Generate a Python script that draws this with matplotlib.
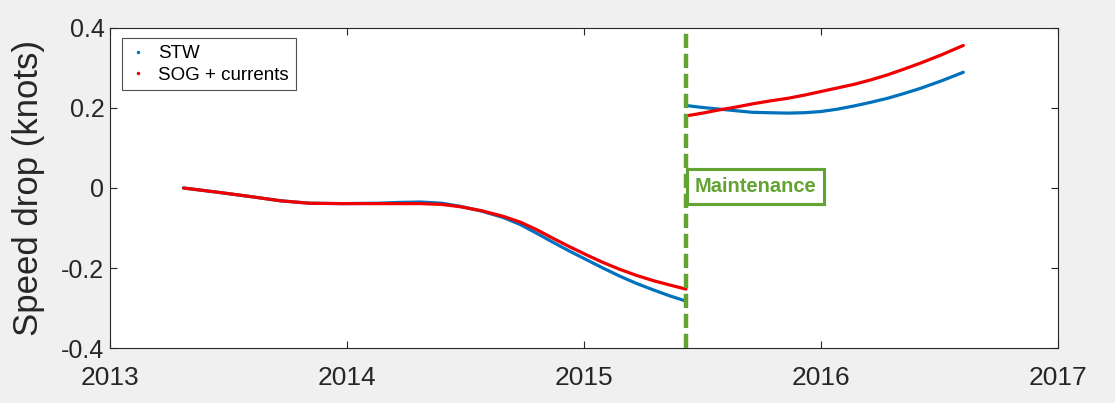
import matplotlib
matplotlib.use("Agg")
import matplotlib.pyplot as plt
from matplotlib.lines import Line2D
import matplotlib.patheffects as pe

plt.rcParams['font.family'] = ['Liberation Sans', 'DejaVu Sans']

# Before maintenance
years_pre = [2013.31, 2013.46, 2013.60, 2013.72, 2013.84, 2013.98, 2014.13, 2014.22,
             2014.31, 2014.40, 2014.48, 2014.57, 2014.66, 2014.73, 2014.80, 2014.87,
             2014.94, 2015.01, 2015.08, 2015.15, 2015.22, 2015.29, 2015.36, 2015.43]
stw_pre = [0.0, -0.011, -0.022, -0.032, -0.038, -0.039, -0.038, -0.036,
           -0.035, -0.038, -0.046, -0.058, -0.074, -0.091, -0.113, -0.136,
           -0.158, -0.179, -0.200, -0.220, -0.238, -0.254, -0.269, -0.2825]
sog_pre = [0.0, -0.011, -0.022, -0.032, -0.038, -0.039, -0.039, -0.039,
           -0.039, -0.041, -0.047, -0.057, -0.071, -0.085, -0.104, -0.126,
           -0.147, -0.167, -0.186, -0.203, -0.218, -0.231, -0.242, -0.2525]

# After maintenance
years_post = [2015.43, 2015.50, 2015.57, 2015.64, 2015.71, 2015.78, 2015.86, 2015.93,
              2016.00, 2016.07, 2016.14, 2016.21, 2016.28, 2016.35, 2016.42, 2016.51,
              2016.60]
stw_post = [0.206, 0.201, 0.197, 0.193, 0.189, 0.188, 0.187, 0.188,
            0.191, 0.197, 0.205, 0.214, 0.224, 0.236, 0.249, 0.268, 0.289]
sog_post = [0.180, 0.187, 0.195, 0.202, 0.210, 0.217, 0.224, 0.232,
            0.241, 0.250, 0.259, 0.270, 0.2825, 0.297, 0.312, 0.333, 0.356]

maintenance_year = 2015.43
x_ticks = [2013, 2014, 2015, 2016, 2017]
y_ticks = [-0.4, -0.2, 0, 0.2, 0.4]
y_tick_labels = ['-0.4', '-0.2', '0', '0.2', '0.4']

blue = '#0072BD'
red = '#F00000'
green = '#62A332'

fig = plt.figure(figsize=(11.15, 4.03), dpi=100, facecolor='#f0f0f0')
ax = fig.add_axes([0.0987, 0.136, 0.8503, 0.795])
ax.set_facecolor('white')

ax.plot(years_pre, stw_pre, color=blue, lw=2.3, solid_capstyle='round', zorder=3)
ax.plot(years_post, stw_post, color=blue, lw=2.3, solid_capstyle='round', zorder=3)
ax.plot(years_pre, sog_pre, color=red, lw=2.3, solid_capstyle='round', zorder=4)
ax.plot(years_post, sog_post, color=red, lw=2.3, solid_capstyle='round', zorder=4)

ax.axvline(maintenance_year, color=green, lw=3.2, dashes=(3.2, 1.3), zorder=5,
           clip_on=False)

t = ax.text(maintenance_year + 0.035, 0.004, 'Maintenance', color=green,
            fontsize=14.5, fontweight='bold', ha='left', va='center', zorder=6,
            bbox=dict(boxstyle='square,pad=0.38', fc='white', ec=green, lw=2.2))
t.get_bbox_patch().set_path_effects([
    pe.withSimplePatchShadow(offset=(2, -2), shadow_rgbFace='#888888', alpha=0.5),
    pe.Normal()])

ax.set_xlim(2013, 2017)
ax.set_ylim(-0.4, 0.4)
ax.set_xticks(x_ticks)
ax.set_xticklabels([str(v) for v in x_ticks], fontsize=19, color='#262626')
ax.set_yticks(y_ticks)
ax.set_yticklabels(y_tick_labels, fontsize=18, color='#262626')
ax.tick_params(direction='in', length=5, width=0.8, color='#262626',
               top=True, right=True, pad=4)
ax.tick_params(axis='x', pad=13)
for s in ax.spines.values():
    s.set_color('#262626')
    s.set_linewidth(0.8)

ax.set_ylabel('Speed drop (knots)', fontsize=25, color='#262626', labelpad=12)

handles = [Line2D([], [], color=blue, marker='.', ls='none', markersize=3),
           Line2D([], [], color=red, marker='.', ls='none', markersize=3)]
leg = ax.legend(handles, ['STW', 'SOG + currents'], loc='upper left',
                bbox_to_anchor=(0.0125, 0.967), fontsize=13.5, frameon=True,
                fancybox=False, edgecolor='#262626', handlelength=1.0,
                handletextpad=0.6, borderpad=0.35, labelspacing=0.25,
                borderaxespad=0)
leg.get_frame().set_linewidth(0.8)

fig.savefig('out.png', dpi=100, facecolor=fig.get_facecolor())
